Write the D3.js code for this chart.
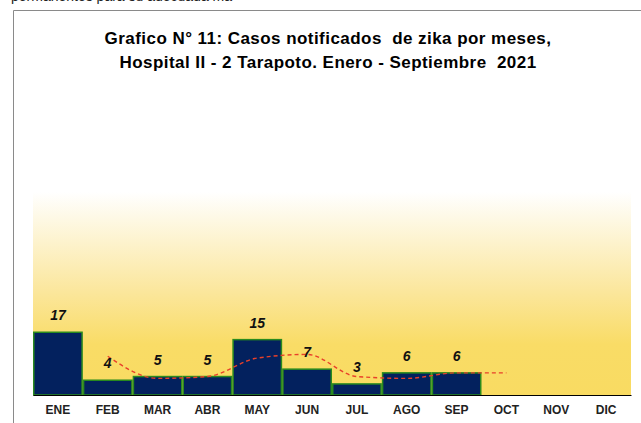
<!DOCTYPE html>
<html><head><meta charset="utf-8">
<script src="https://cdn.jsdelivr.net/npm/d3@7"></script>
<style>body{margin:0;background:#fff}svg{display:block}</style>
</head><body><svg id="c" width="641" height="423"></svg>
<script>
const months = ["ENE","FEB","MAR","ABR","MAY","JUN","JUL","AGO","SEP","OCT","NOV","DIC"];
const barMonths = ["ENE","FEB","MAR","ABR","MAY","JUN","JUL","AGO","SEP"];
const cases = [17,4,5,5,15,7,3,6,6];
const trendMonths = ["FEB","MAR","ABR","MAY","JUN","JUL","AGO","SEP","OCT"];
const trendValues = [10.5,4.5,5,10,11,5,4.5,6,6];
const titleLines = ["Grafico N° 11: Casos notificados  de zika por meses,","Hospital II - 2 Tarapoto. Enero - Septiembre  2021"];

const svg = d3.select("#c");
const font = "'Liberation Sans', Arial, sans-serif";

// cut-off text from page above (only lower part visible)
svg.append("text").attr("x",11).attr("y",1).attr("font-family",font).attr("font-size",14)
  .attr("fill","#222").text("permanentes para su adecuada ma");

// frame
svg.append("path").attr("d","M13.5,423 V10.5 H641").attr("fill","none").attr("stroke","#8a8a8a").attr("stroke-width",1);

const x = d3.scaleBand().domain(months).range([33,631]).padding(0);
const y = d3.scaleLinear().domain([0,55]).range([395,192]);

const defs = svg.append("defs");
const g = defs.append("linearGradient").attr("id","bg").attr("x1",0).attr("y1",0).attr("x2",0).attr("y2",1);
g.append("stop").attr("offset","0%").attr("stop-color","#ffffff");
g.append("stop").attr("offset","50%").attr("stop-color","#fbe69a");
g.append("stop").attr("offset","75%").attr("stop-color","#f9dc66");
g.append("stop").attr("offset","100%").attr("stop-color","#f9db62");
svg.append("rect").attr("x",x.range()[0]).attr("y",y(55)).attr("width",x.range()[1]-x.range()[0])
  .attr("height",y(0)-y(55)).attr("fill","url(#bg)");

// bars
svg.selectAll(".bar").data(cases).enter().append("rect")
  .attr("x",(d,i)=>x(barMonths[i])+0.75).attr("y",d=>y(d))
  .attr("width",x.bandwidth()-1.5).attr("height",d=>y(0)-y(d))
  .attr("fill","#03215e").attr("stroke","#2a8a1e").attr("stroke-width",1.5);

// trend
const line = d3.line().x((d,i)=>x(trendMonths[i])+x.bandwidth()/2).y(d=>y(d)).curve(d3.curveMonotoneX);
svg.append("path").attr("d",line(trendValues)).attr("fill","none").attr("stroke","#e8402a")
  .attr("stroke-width",1.4).attr("stroke-dasharray","4,3");

// labels
svg.selectAll(".lbl").data(cases).enter().append("text")
  .attr("x",(d,i)=>x(barMonths[i])+x.bandwidth()/2).attr("y",d=>y(d)-12)
  .attr("text-anchor","middle").attr("font-family",font).attr("font-size",14)
  .attr("font-weight","bold").attr("font-style","italic").attr("fill","#111").text(d=>d);

// baseline axis
const ax = svg.append("g").attr("transform","translate(0,395)").call(d3.axisBottom(x).tickSize(0).tickPadding(10));
ax.select(".domain").attr("stroke","#000").attr("stroke-width",1.2);
ax.selectAll("text").attr("font-family",font).attr("font-size",12).attr("font-weight","bold").attr("fill","#222");

// title
svg.selectAll(".t").data(titleLines).enter().append("text")
  .attr("x",328).attr("y",(d,i)=>44+i*24).attr("text-anchor","middle")
  .attr("font-family",font).attr("font-size",17).attr("font-weight","bold").attr("fill","#000")
  .attr("letter-spacing",0.45).style("white-space","pre").text(d=>d);
</script></body></html>
